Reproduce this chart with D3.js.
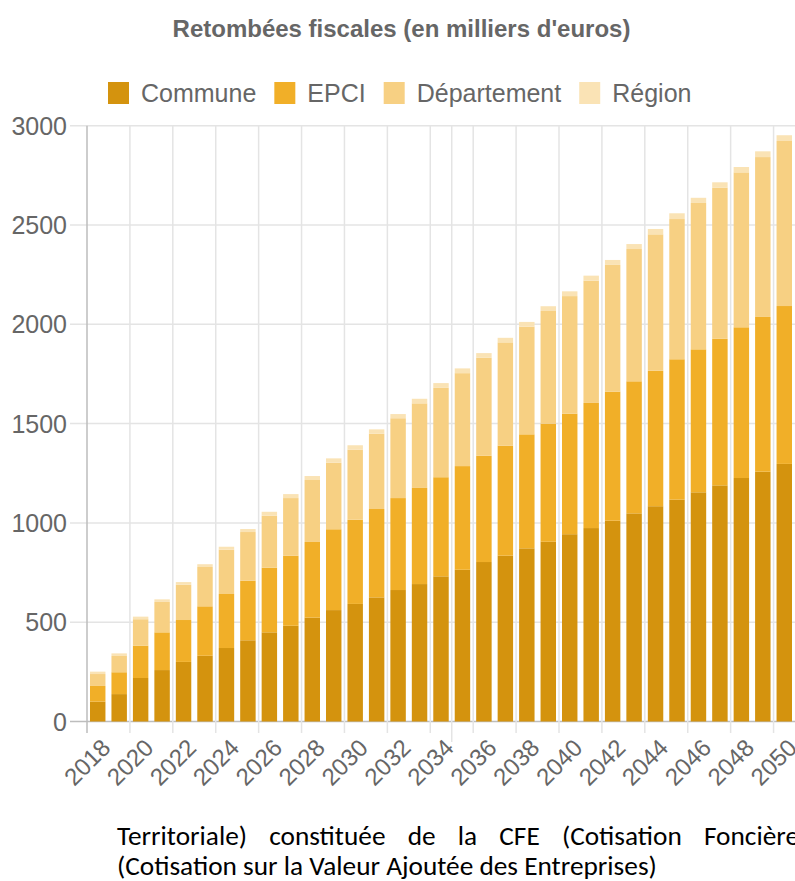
<!DOCTYPE html>
<html>
<head>
<meta charset="utf-8">
<script src="https://cdn.jsdelivr.net/npm/d3@7"></script>
<style>
  html, body { margin: 0; padding: 0; background: #fff; }
  svg { display: block; }
</style>
</head>
<body>
<div id="chart"></div>
<script>
// Retombées fiscales, stacked by collectivité
const years = [2018, 2019, 2020, 2021, 2022, 2023, 2024, 2025, 2026, 2027, 2028,
    2029, 2030, 2031, 2032, 2033, 2034, 2035, 2036, 2037, 2038, 2039, 2040,
    2041, 2042, 2043, 2044, 2045, 2046, 2047, 2048, 2049, 2050];
const seriesNames = ['Commune', 'EPCI', 'Département', 'Région'];
const commune = [100, 138, 219, 259, 300, 331, 370, 409, 449, 482, 523, 561, 592, 625,
    662, 692, 731, 764, 803, 835, 872, 905, 943, 974, 1011, 1048, 1084, 1117, 1154,
    1189, 1226, 1258, 1297];
const epci = [79, 110, 163, 190, 211, 249, 272, 300, 325, 353, 381, 407, 424, 445, 463,
    484, 499, 522, 535, 554, 574, 595, 607, 630, 650, 665, 682, 707, 720, 738, 759,
    779, 795];
const departement = [60, 82, 133, 153, 178, 198, 223, 245, 262, 290, 312, 335, 353, 379,
    402, 426, 450, 468, 494, 520, 542, 567, 592, 616, 638, 666, 687, 706, 737, 761,
    780, 805, 831];
const region = [12, 13, 13, 13, 13, 14, 15, 15, 20, 20, 20, 22, 22, 22, 21, 23, 24, 24,
    23, 23, 24, 24, 24, 25, 25, 25, 27, 29, 26, 27, 27, 29, 29];
const yTicks = [0, 500, 1000, 1500, 2000, 2500, 3000];
const labelYears = [2018, 2020, 2022, 2024, 2026, 2028, 2030, 2032, 2034, 2036, 2038,
    2040, 2042, 2044, 2046, 2048, 2050];
const gridYears = [2018, 2020, 2022, 2024, 2026, 2028, 2030, 2032, 2034, 2035, 2036,
    2038, 2040, 2042, 2044, 2046, 2048, 2050];
const noteLines = [
    'Territoriale) constituée de la CFE (Cotisation Foncière des Entreprises) et de la CVAE',
    '(Cotisation sur la Valeur Ajoutée des Entreprises)'
];

const WIDTH = 795;
const HEIGHT = 881;
const PLOT = {left: 87, right: 795, top: 125.7, bottom: 721.5};
const colors = ['#d4930e', '#f1af28', '#f7d083', '#fae3b5'];
const FONT = '"Liberation Sans", Arial, Helvetica, sans-serif';
const TEXT_COLOR = '#666';

const rows = years.map((yr, i) => ({
    year: yr,
    'Commune': commune[i],
    'EPCI': epci[i],
    'Département': departement[i],
    'Région': region[i]
}));

const x = d3.scaleBand()
    .domain(years)
    .range([PLOT.left, PLOT.right])
    .paddingInner(0.28)
    .paddingOuter(0.14);
const y = d3.scaleLinear()
    .domain([0, 3000])
    .range([PLOT.bottom, PLOT.top]);
const color = d3.scaleOrdinal().domain(seriesNames).range(colors);
const leftEdge = yr => x(yr) - (x.step() - x.bandwidth()) / 2;

const svg = d3.select('#chart').append('svg')
    .attr('width', WIDTH)
    .attr('height', HEIGHT)
    .style('font-family', FONT);

// horizontal grid + y labels
svg.append('g')
    .selectAll('line')
    .data(yTicks)
    .join('line')
    .attr('x1', 70)
    .attr('x2', PLOT.right)
    .attr('y1', d => y(d))
    .attr('y2', d => y(d))
    .attr('stroke', d => d === 0 ? '#bdbdbd' : '#e4e4e4')
    .attr('stroke-width', 1.5);

svg.append('g')
    .selectAll('text')
    .data(yTicks)
    .join('text')
    .attr('x', 67)
    .attr('y', d => y(d))
    .attr('dy', '0.36em')
    .attr('text-anchor', 'end')
    .attr('font-size', 25)
    .attr('fill', TEXT_COLOR)
    .text(d => d);

// vertical grid, one line per shown tick (plus the odd 2035 one)
svg.append('g')
    .selectAll('line')
    .data(gridYears)
    .join('line')
    .attr('x1', d => leftEdge(d))
    .attr('x2', d => leftEdge(d))
    .attr('y1', PLOT.top)
    .attr('y2', d => d === 2035 ? 742 : 733)
    .attr('stroke', d => d === 2018 ? '#bdbdbd' : '#e4e4e4')
    .attr('stroke-width', 1.5);

// stacked bars
const stacked = d3.stack().keys(seriesNames)(rows);
svg.append('g')
    .selectAll('g')
    .data(stacked)
    .join('g')
    .attr('fill', d => color(d.key))
    .selectAll('rect')
    .data(d => d)
    .join('rect')
    .attr('x', d => x(d.data.year))
    .attr('width', x.bandwidth())
    .attr('y', d => y(d[1]))
    .attr('height', d => y(d[0]) - y(d[1]));

// x labels, rotated
svg.append('g')
    .selectAll('text')
    .data(labelYears)
    .join('text')
    .attr('transform', d => `translate(${x(d) + x.bandwidth() / 2 + 2},737) rotate(-45)`)
    .attr('dy', '0.72em')
    .attr('text-anchor', 'end')
    .attr('font-size', 24)
    .attr('fill', TEXT_COLOR)
    .text(d => d);

// title
svg.append('text')
    .attr('x', 401.5)
    .attr('y', 37)
    .attr('text-anchor', 'middle')
    .attr('font-size', 24)
    .attr('font-weight', 'bold')
    .attr('fill', TEXT_COLOR)
    .text("Retombées fiscales (en milliers d'euros)");

// legend
const legend = svg.append('g');
let lx = 108;
for (const name of seriesNames) {
    legend.append('rect')
        .attr('x', lx)
        .attr('y', 82)
        .attr('width', 21)
        .attr('height', 22)
        .attr('fill', color(name));
    const t = legend.append('text')
        .attr('x', lx + 33)
        .attr('y', 102)
        .attr('font-size', 25)
        .attr('fill', TEXT_COLOR)
        .text(name);
    lx += 33 + t.node().getComputedTextLength() + 18;
}

// document text under the chart (justified paragraph, cropped at the right)
const note = svg.append('g')
    .style('font-family', 'Carlito, Calibri, Lato, "Open Sans", sans-serif')
    .attr('fill', '#000');
const probe = note.append('text').attr('font-size', 24).text(noteLines[1]);
const noteSize = 24 * 540 / probe.node().getComputedTextLength();
probe.attr('font-size', noteSize).text('Territoriale) constituée de la CFE (Cotisation Foncière');
const firstPart = probe.node().getComputedTextLength();
probe.remove();
const justifySpace = Math.max(0, (682 - firstPart) / 6);
note.selectAll('text')
    .data(noteLines)
    .join('text')
    .attr('x', 117)
    .attr('y', (d, i) => 845 + i * 29.5)
    .attr('font-size', noteSize)
    .attr('word-spacing', (d, i) => i === 0 ? justifySpace : 0)
    .text(d => d);
</script>
</body>
</html>
